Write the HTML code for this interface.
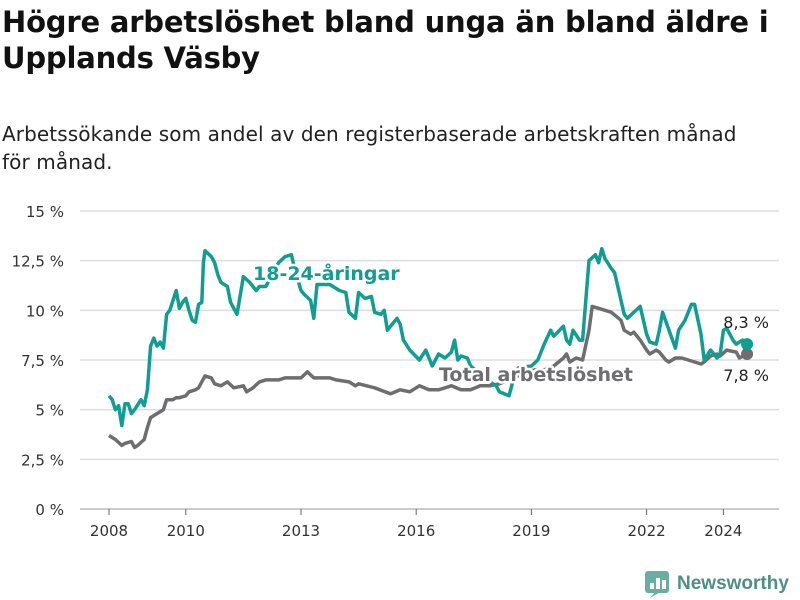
<!DOCTYPE html>
<html><head><meta charset="utf-8">
<style>
body{margin:0;background:#fff;font-family:"Liberation Sans","DejaVu Sans",sans-serif;}
#wrap{position:relative;width:800px;height:600px;overflow:hidden;}
h1{position:absolute;left:2px;top:4px;margin:0;font-size:29px;line-height:36px;font-weight:bold;color:#111;width:798px;font-family:"DejaVu Sans","Liberation Sans",sans-serif;letter-spacing:-0.2px;white-space:nowrap}
p.sub{position:absolute;left:2px;top:120px;margin:0;font-size:20px;line-height:28px;color:#222;width:798px;font-family:"DejaVu Sans","Liberation Sans",sans-serif;letter-spacing:0.1px;white-space:nowrap}
svg text{font-family:"DejaVu Sans","Liberation Sans",sans-serif;}
</style></head><body>
<div id="wrap">
<h1>Högre arbetslöshet bland unga än bland äldre i<br>Upplands Väsby</h1>
<p class="sub">Arbetssökande som andel av den registerbaserade arbetskraften månad<br>för månad.</p>
<svg id="chart" width="800" height="600" style="position:absolute;left:0;top:0"></svg>
</div>
<script>
const yTicks=[0,2.5,5,7.5,10,12.5,15];
const yTickLabels=["0 %","2,5 %","5 %","7,5 %","10 %","12,5 %","15 %"];
const xTicks=[2008,2010,2013,2016,2019,2022,2024];
// months since Jan 2008
const youthMonths=[0,1,2,3,4,5,6,7,8,10, 11,12,13,14,15,16,17,18,19,20, 21,22,23,24,25,26,27,28,29,29.5, 30,32,33,34,35,37,38,40,42,44, 46,47,49,52,53,55,57,58,60,61, 63,64,65,69,72,74,75,77,78,80, 82,83,85,86,87,88,90,91,92,94, 97,99,101,103,105,107,108,109,110,112, 113,119,121,122,125,127,128,132,134,136, 138,139,142,143,144,145,147,148,149,150, 152,153,154,155,157,158,160,161,162,164, 166,168,169,171,172,173,175,177,178,180, 182,183,185,186,188,190,191,192,193,195, 196,198,199,199.4];
const youthValues=[5.7,5.5,5.0,5.2,4.2,5.3,5.3,4.8,5.0,5.5, 5.2,6.0,8.2,8.6,8.2,8.4,8.1,9.8,10.0,10.5, 11.0,10.1,10.4,10.6,10.0,9.5,9.4,10.3,10.4,12.4, 13.0,12.7,12.4,11.8,11.4,11.2,10.4,9.8,11.7,11.4, 11.0,11.2,11.2,12.1,12.4,12.7,12.8,12.1,11.0,10.8, 10.5,9.6,11.3,11.3,11.0,10.9,9.9,9.6,10.9,10.6, 10.7,9.9,9.8,10.0,9.0,9.2,9.6,9.3,8.5,8.0, 7.5,8.0,7.2,7.8,7.6,7.9,8.5,7.5,7.7,7.6, 7.2,6.4,6.2,5.9,5.7,6.9,7.1,7.2,7.5,8.3, 9.0,8.7,9.2,8.5,8.3,9.0,8.5,8.5,10.5,12.5, 12.8,12.4,13.1,12.6,12.1,11.9,10.5,9.8,9.6,9.9, 10.2,8.8,8.4,8.3,9.0,9.9,9.0,8.1,9.0,9.5, 10.3,10.3,8.8,7.5,8.0,7.6,7.8,9.0,9.1,8.5, 8.3,8.5,7.8,8.3];
const totalMonths=[0,2,4,5,7,8,9,11,12,13, 15,17,18,20,21,22,24,25,27,28, 30,32,33,35,37,39,42,43,45,47, 49,50,53,55,60,62,64,66,69,71, 75,77,78,83,88,91,94,97,100,103, 107,110,113,116,119,122,128,133,136,139, 142,143,144,146,148,150,151,153,155,157, 160,161,163,164,166,168,169,171,172,174, 175,177,179,181,183,185,186,188,190,191, 193,196,197,199.4];
const totalValues=[3.7,3.5,3.2,3.3,3.4,3.1,3.2,3.5,4.1,4.6, 4.8,5.0,5.5,5.5,5.6,5.6,5.7,5.9,6.0,6.1, 6.7,6.6,6.3,6.2,6.4,6.1,6.2,5.9,6.1,6.4, 6.5,6.5,6.5,6.6,6.6,6.9,6.6,6.6,6.6,6.5, 6.4,6.2,6.3,6.1,5.8,6.0,5.9,6.2,6.0,6.0, 6.2,6.0,6.0,6.2,6.2,6.3,6.7,7.0,7.0,7.2, 7.6,7.8,7.4,7.6,7.5,9.0,10.2,10.1,10.0,9.9, 9.5,9.0,8.8,8.9,8.5,8.0,7.8,8.0,7.9,7.5, 7.4,7.6,7.6,7.5,7.4,7.3,7.4,7.7,7.8,7.7, 8.0,7.9,7.6,7.8];
const NS="http://www.w3.org/2000/svg";
const svg=document.getElementById('chart');
const x=m=>109+m*3.2;
const xYear=yr=>x((yr-2008)*12);
const y=v=>509-v*(298/15);
function mk(t,a,parent){const e=document.createElementNS(NS,t);for(const k in a)e.setAttribute(k,a[k]);(parent||svg).appendChild(e);return e;}
yTicks.forEach((v,i)=>{
  const l=mk('line',{x1:80,x2:779,y1:y(v),y2:y(v),stroke:'#dddddd','stroke-width':1.5});
  
  
  const t=mk('text',{x:64,y:y(v)+6,'text-anchor':'end','font-size':15,fill:'#333'});
  t.textContent=yTickLabels[i];
  
  
});
const ax=mk('line',{x1:80,x2:779,y1:509,y2:509,stroke:'#aaa','stroke-width':1});


xTicks.forEach(yr=>{
  const tk=mk('line',{x1:xYear(yr),x2:xYear(yr),y1:509,y2:515,stroke:'#666','stroke-width':1});
  
  
  const t=mk('text',{x:xYear(yr),y:536,'text-anchor':'middle','font-size':15,fill:'#333'});
  t.textContent=yr;
  
  
});
function path(ms,vs){return ms.map((m,i)=>(i?'L':'M')+x(m).toFixed(1)+','+y(vs[i]).toFixed(1)).join('');}
const tp=mk('path',{d:path(totalMonths,totalValues),fill:'none',stroke:'#6e6d70','stroke-width':3.5,'stroke-linejoin':'round'});


const yp=mk('path',{d:path(youthMonths,youthValues),fill:'none',stroke:'#109e92','stroke-width':3.5,'stroke-linejoin':'round'});


const lt=totalMonths.length-1, ly=youthMonths.length-1;
const d1=mk('circle',{cx:x(totalMonths[lt]),cy:y(totalValues[lt]),r:6,fill:'#6e6d70'});


const d2=mk('circle',{cx:x(youthMonths[ly]),cy:y(youthValues[ly]),r:6,fill:'#109e92'});


function label(txt,xx,yy,col,bold,name,anchor){
  const t=mk('text',{x:xx,y:yy,'font-size':bold?19:16,'font-weight':bold?'bold':'normal',fill:col,stroke:'#fff','stroke-width':bold?5:0,'paint-order':'stroke','stroke-linejoin':'round','text-anchor':anchor||'start'});
  t.textContent=txt;
  
  
}
label('18-24-åringar',253,280,'#109e92',true,'youth-series-label');
label('Total arbetslöshet',439,381,'#6e6d70',true,'total-series-label');
label('8,3 %',769,328,'#222',false,'youth-end-value','end');
label('7,8 %',769,381,'#222',false,'total-end-value','end');
const g=mk('g',{});


mk('rect',{x:645,y:571,width:24,height:22,rx:3,fill:'#6aada5'},g);
mk('path',{d:'M650,598 L657,590 L664,590 Z',fill:'#6aada5'},g);
[[650,583,4,6],[656,578,4,11],[662,580,4,9]].forEach(r=>mk('rect',{x:r[0],y:r[1],width:r[2],height:r[3],fill:'#fff'},g));
const lg=mk('text',{x:677,y:589,'font-size':19,'font-weight':'bold',fill:'#4e8f88',style:'font-family:"Liberation Sans",sans-serif'},g);
lg.textContent='Newsworthy';
</script>
</body></html>
